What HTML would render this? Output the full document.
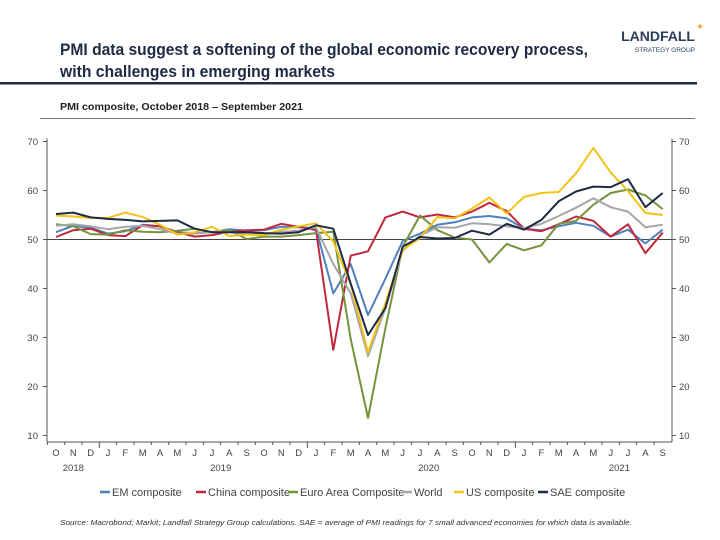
<!DOCTYPE html>
<html><head><meta charset="utf-8">
<style>
body{margin:0;background:#fff;font-family:"Liberation Sans",sans-serif;}
#wrap{position:relative;width:720px;height:540px;overflow:hidden;background:#fff;}
</style></head>
<body>
<div id="wrap">
<svg id="chart" width="720" height="540" viewBox="0 0 720 540">
  <text x="60" y="55" font-size="17" fill="#1f2a44" font-weight="bold" textLength="528" lengthAdjust="spacingAndGlyphs">PMI data suggest a softening of the global economic recovery process,</text>
  <text x="60" y="77" font-size="17" fill="#1f2a44" font-weight="bold" textLength="275" lengthAdjust="spacingAndGlyphs">with challenges in emerging markets</text>
  <g>
    <text x="695" y="41" font-size="14" fill="#2b3d5c" text-anchor="end" font-weight="bold">LANDFALL</text>
    <text x="695" y="52" font-size="6.5" fill="#2b3d5c" text-anchor="end">STRATEGY GROUP</text>
    <text x="700" y="30" font-size="10" fill="#e0b030" text-anchor="middle">✦</text>
  </g>
  <rect x="0" y="82" width="697" height="2.5" fill="#1f2a44"/>
  <text x="60" y="110" font-size="10.5" fill="#222" font-weight="bold" textLength="243" lengthAdjust="spacingAndGlyphs">PMI composite, October 2018 – September 2021</text>
  <rect x="40" y="118" width="655" height="0.8" fill="#555"/>
  <g id="plot"></g>
  <text x="60" y="525" font-size="7.5" font-style="italic" fill="#333" textLength="572" lengthAdjust="spacingAndGlyphs">Source: Macrobond;  Markit; Landfall Strategy Group calculations. SAE = average of PMI readings for 7 small advanced economies for which data is available.</text>
</svg>
</div>
<script>
const months=["O","N","D","J","F","M","A","M","J","J","A","S","O","N","D","J","F","M","A","M","J","J","A","S","O","N","D","J","F","M","A","M","J","J","A","S"];
const years=["2018","2019","2020","2021"];
const yTicks=[10,20,30,40,50,60,70];
const seriesNames=["EM composite","China composite","Euro Area Composite","World","US composite","SAE composite"];
const seriesColors=["#4f81bd","#c0283c","#76923c","#a6a6a6","#f2c318","#1f2a44"];
const emValues=[51.5,52.8,52.4,51.2,51.7,53,52.7,51.5,51.3,51.5,52.1,51.8,51.9,52.6,52.5,52.3,39,45,34.6,42,49.7,51.2,53,53.5,54.5,54.8,54.3,52.2,51.9,52.7,53.4,52.8,50.6,52,49.2,52];
const chinaValues=[50.5,51.9,52.2,50.9,50.7,52.9,52.7,51.5,50.6,50.9,51.6,51.9,52,53.2,52.6,51.9,27.5,46.7,47.6,54.5,55.7,54.5,55.1,54.5,55.7,57.5,55.8,52.2,51.7,53.1,54.7,53.8,50.6,53.1,47.2,51.4];
const euroValues=[53.1,52.7,51.1,51,51.9,51.6,51.5,51.8,52.2,51.5,51.9,50.1,50.6,50.6,50.9,51.3,51.6,29.7,13.6,31.9,48.5,54.9,51.9,50.4,50,45.3,49.1,47.8,48.8,53.2,53.8,57.1,59.5,60.2,59,56.2];
const worldValues=[52.8,53.1,52.7,52.1,52.6,52.8,52.1,51.2,51.2,51.6,51.5,51.1,51,51.6,51.8,52.5,45,39,26.2,36,47.7,50.8,52.5,52.4,53.3,53.1,52.7,52.3,53.2,54.8,56.5,58.4,56.6,55.7,52.5,53];
const usValues=[54.9,54.7,54.4,54.4,55.5,54.6,53,51,51.5,52.6,50.7,51,50.9,52,52.7,53.3,49.6,40.9,27,37,47.9,50.3,54.6,54.3,56.3,58.6,55.3,58.7,59.5,59.7,63.5,68.7,63.7,59.9,55.4,55];
const saeValues=[55.2,55.5,54.5,54.2,54,53.7,53.8,53.9,52.2,51.5,51.5,51.5,51.3,51.2,51.5,52.9,52.2,41,30.5,36,48.5,50.5,50.2,50.3,51.8,51,53.2,52,54,57.8,59.8,60.8,60.7,62.3,56.6,59.5];

const NS="http://www.w3.org/2000/svg";
const L=47,R=672,TOP=141.5,BOT=435.5,AXY=442;
const x0=56,dx=(662.7-56)/35;
const xs=i=>x0+dx*i;
const ys=v=>BOT-(v-10)/60*(BOT-TOP);
const plot=document.getElementById('plot');
function mk(tag,attrs,parent){const e=document.createElementNS(NS,tag);for(const k in attrs)e.setAttribute(k,attrs[k]);(parent||plot).appendChild(e);return e;}

let e=mk('line',{x1:L,y1:TOP-3,x2:L,y2:AXY,stroke:'#555','stroke-width':1});


e=mk('line',{x1:R,y1:TOP-3,x2:R,y2:AXY,stroke:'#555','stroke-width':1});


e=mk('line',{x1:L,y1:AXY,x2:R,y2:AXY,stroke:'#555','stroke-width':1});


e=mk('line',{x1:L,y1:ys(50),x2:R,y2:ys(50),stroke:'#444','stroke-width':0.9});



yTicks.forEach(t=>{
  const y=ys(t);
  mk('line',{x1:L-4,y1:y,x2:L,y2:y,stroke:'#555'});
  mk('line',{x1:R,y1:y,x2:R+4,y2:y,stroke:'#555'});
  let a=mk('text',{x:L-9,y:y+3.5,'font-size':9.5,fill:'#444','text-anchor':'end'});a.textContent=t;
  
  
  let b=mk('text',{x:R+7,y:y+3.5,'font-size':9.5,fill:'#444'});b.textContent=t;
  
  
});

months.forEach((m,i)=>{
  const bx=xs(i)-dx/2;
  const big=(i===3||i===15||i===27);
  mk('line',{x1:bx,y1:AXY,x2:bx,y2:AXY+(big?6:3),stroke:'#555'});
  let t=mk('text',{x:xs(i),y:AXY+14,'font-size':9.5,fill:'#444','text-anchor':'middle'});t.textContent=m;
  
  
});
const yearIdx=[1,9.5,21.5,32.5];
years.forEach((yv,i)=>{
  let t=mk('text',{x:xs(yearIdx[i]),y:AXY+29,'font-size':9.5,fill:'#444','text-anchor':'middle'});t.textContent=yv;
  
  
});

const allSeries=[emValues,chinaValues,euroValues,worldValues,usValues,saeValues];
allSeries.forEach((vals,s)=>{
  const d=vals.map((v,i)=>(i?'L':'M')+xs(i).toFixed(1)+','+ys(v).toFixed(1)).join(' ');
  const p=mk('path',{d:d,fill:'none',stroke:seriesColors[s],'stroke-width':2,'stroke-linejoin':'round'});
  
  
});

const legendX=[100,196,288,402,454,538];
seriesNames.forEach((n,s)=>{
  const g=mk('g',{});
  
  
  mk('line',{x1:legendX[s],y1:492,x2:legendX[s]+10,y2:492,stroke:seriesColors[s],'stroke-width':2.5},g);
  const t=mk('text',{x:legendX[s]+12,y:496,'font-size':11,fill:'#444'},g);t.textContent=n;
});
</script>
</body></html>
